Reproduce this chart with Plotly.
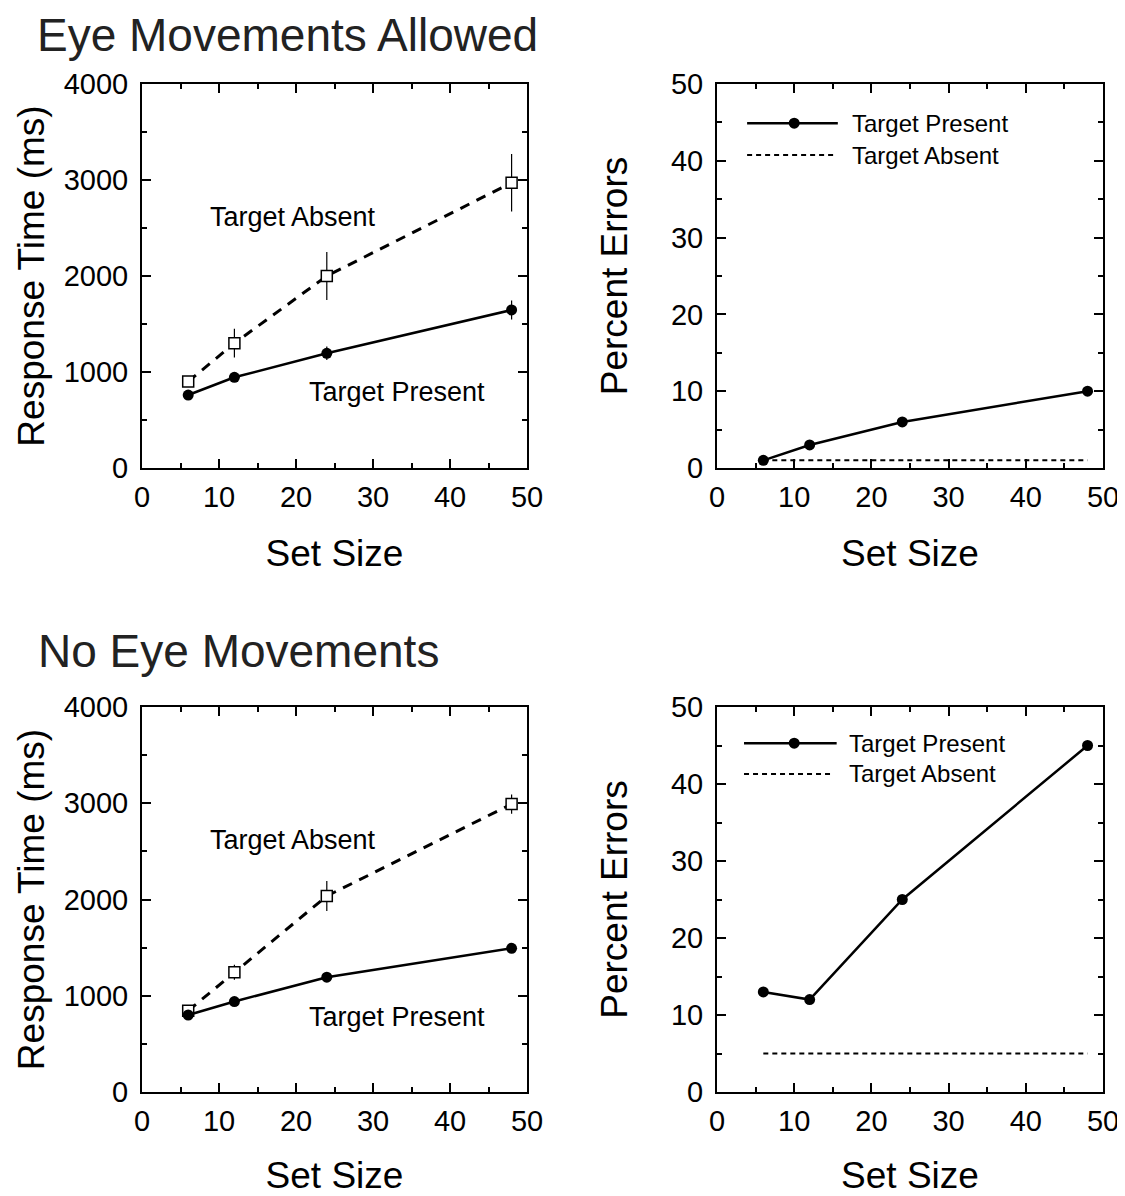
import plotly.graph_objects as go

# ---------------- data ----------------
set_size = [6, 12, 24, 48]

# Eye movements allowed
rt_present_eye = [760, 945, 1195, 1646]
rt_present_eye_err = [30, 40, 70, 100]
rt_absent_eye = [900, 1300, 2000, 2972]
rt_absent_eye_err = [30, 150, 250, 300]
err_present_eye = [1, 3, 6, 10]
err_absent_eye = [1, 1, 1, 1]

# No eye movements
rt_present_noeye = [800, 940, 1193, 1493]
rt_present_noeye_err = [20, 25, 30, 35]
rt_absent_noeye = [845, 1245, 2036, 2992]
rt_absent_noeye_err = [40, 78, 155, 100]
err_present_noeye = [13, 12, 25, 45]
err_absent_noeye = [5, 5, 5, 5]

x_ticks = [0, 10, 20, 30, 40, 50]
rt_ticks = [0, 1000, 2000, 3000, 4000]
pe_ticks = [0, 10, 20, 30, 40, 50]

FONT = "Liberation Sans, Arial, Helvetica, sans-serif"
PAGE_W, PAGE_H = 1125, 1196
OFF = 8  # default page body margin
W, H = PAGE_W - OFF, PAGE_H - OFF

def xdom(l, r):
    return [(l - OFF) / W, (r - OFF) / W]

def ydom(t, b):
    return [1 - (b - OFF) / H, 1 - (t - OFF) / H]

fig = go.Figure()

def add_rt(xa, ya, present, perr, absent, aerr):
    fig.add_trace(go.Scatter(
        x=set_size, y=absent, xaxis=xa, yaxis=ya, mode="lines+markers",
        line=dict(color="black", width=3, dash="10px,8px"),
        marker=dict(symbol="square", size=11, color="white",
                    line=dict(color="black", width=1.5)),
        error_y=dict(type="data", array=aerr, visible=True, color="black",
                     thickness=1.2, width=0),
        showlegend=False, cliponaxis=False))
    fig.add_trace(go.Scatter(
        x=set_size, y=present, xaxis=xa, yaxis=ya, mode="lines+markers",
        line=dict(color="black", width=2.5),
        marker=dict(symbol="circle", size=11, color="black"),
        error_y=dict(type="data", array=perr, visible=True, color="black",
                     thickness=1.2, width=0),
        showlegend=False, cliponaxis=False))

def add_pe(xa, ya, present, absent):
    fig.add_trace(go.Scatter(
        x=set_size, y=absent, xaxis=xa, yaxis=ya, mode="lines",
        line=dict(color="black", width=2, dash="5px,4px"),
        showlegend=False, cliponaxis=False))
    fig.add_trace(go.Scatter(
        x=set_size, y=present, xaxis=xa, yaxis=ya, mode="lines+markers",
        line=dict(color="black", width=2.5),
        marker=dict(symbol="circle", size=11, color="black"),
        showlegend=False, cliponaxis=False))

add_rt("x", "y", rt_present_eye, rt_present_eye_err, rt_absent_eye, rt_absent_eye_err)
add_pe("x2", "y2", err_present_eye, err_absent_eye)
add_rt("x3", "y3", rt_present_noeye, rt_present_noeye_err, rt_absent_noeye, rt_absent_noeye_err)
add_pe("x4", "y4", err_present_noeye, err_absent_noeye)

tickfont = dict(family=FONT, size=29, color="black")
titlefont = dict(family=FONT, size=37, color="black")

def axis_common():
    return dict(showline=True, linecolor="black", linewidth=2, mirror="ticks",
                ticks="inside", ticklen=9, tickwidth=2, tickcolor="black",
                showgrid=False, zeroline=False, tickfont=tickfont,
                fixedrange=True, automargin=False)

def xaxis(dom, anchor):
    d = axis_common()
    d.update(domain=dom, anchor=anchor, range=[0, 50], tickmode="array",
             tickvals=x_ticks, ticktext=[str(v) for v in x_ticks],
             minor=dict(ticks="inside", ticklen=5, tickwidth=2, tickcolor="black",
                        dtick=5, showgrid=False),
             title=dict(text="Set Size", font=titlefont, standoff=28),
             ticklabelstandoff=2)
    return d

def yaxis(dom, anchor, rng, vals, minor_dt, title, standoff):
    d = axis_common()
    d.update(domain=dom, anchor=anchor, range=rng, tickmode="array",
             tickvals=vals, ticktext=[str(v) for v in vals],
             minor=dict(ticks="inside", ticklen=5, tickwidth=2, tickcolor="black",
                        dtick=minor_dt, showgrid=False),
             title=dict(text=title, font=titlefont, standoff=standoff),
             ticklabelstandoff=6)
    return d

left_x = xdom(142, 527)
right_x = xdom(717, 1103)
top_y = ydom(84, 468)
bot_y = ydom(707, 1092)

fig.update_layout(
    width=W, height=H,
    margin=dict(l=0, r=0, t=0, b=0),
    paper_bgcolor="white", plot_bgcolor="white",
    font=dict(family=FONT, color="black"),
    xaxis=xaxis(left_x, "y"),
    yaxis=yaxis(top_y, "x", [0, 4000], rt_ticks, 500, "Response Time (ms)", 8),
    xaxis2=xaxis(right_x, "y2"),
    yaxis2=yaxis(top_y, "x2", [0, 50], pe_ticks, 5, "Percent Errors", 32),
    xaxis3=xaxis(left_x, "y3"),
    yaxis3=yaxis(bot_y, "x3", [0, 4000], rt_ticks, 500, "Response Time (ms)", 8),
    xaxis4=xaxis(right_x, "y4"),
    yaxis4=yaxis(bot_y, "x4", [0, 50], pe_ticks, 5, "Percent Errors", 32),
)

annots = []
annots.append(dict(text="Eye Movements Allowed", xref="paper", yref="paper",
                   x=(36 - OFF) / W, y=1.0, xanchor="left", yanchor="top",
                   borderpad=0, showarrow=False,
                   font=dict(family=FONT, size=46, color="#222")))
annots.append(dict(text="No Eye Movements", xref="paper", yref="paper",
                   x=(36 - OFF) / W, y=1 - (651 - OFF) / H, xanchor="left", yanchor="middle",
                   showarrow=False, font=dict(family=FONT, size=46, color="#222")))

labfont = dict(family=FONT, size=27, color="black")
for xa, ya, ya_abs, ya_pres in [("x", "y", 2615, 790), ("x3", "y3", 2618, 779)]:
    annots.append(dict(text="Target Absent", xref=xa, yref=ya, x=19.6, y=ya_abs,
                       showarrow=False, font=labfont, xanchor="center", yanchor="middle"))
    annots.append(dict(text="Target Present", xref=xa, yref=ya, x=33.1, y=ya_pres,
                       showarrow=False, font=labfont, xanchor="center", yanchor="middle"))

shapes = []
legfont = dict(family=FONT, size=24, color="black")
for xa, ya, yp, yab, x0, x1, xm, xt in [
        ("x2", "y2", 0.898, 0.815, 0.078, 0.313, 0.2, 0.345),
        ("x4", "y4", 0.906, 0.826, 0.070, 0.310, 0.2, 0.337)]:
    xr = xa + " domain"
    yr = ya + " domain"
    shapes.append(dict(type="line", xref=xr, yref=yr, x0=x0, x1=x1, y0=yp, y1=yp,
                       line=dict(color="black", width=2.5)))
    shapes.append(dict(type="circle", xref=xr, yref=yr, xsizemode="pixel",
                       ysizemode="pixel", xanchor=xm, yanchor=yp,
                       x0=-5.5, x1=5.5, y0=-5.5, y1=5.5,
                       fillcolor="black", line=dict(color="black", width=0)))
    shapes.append(dict(type="line", xref=xr, yref=yr, x0=x0, x1=x1 - 0.01, y0=yab, y1=yab,
                       line=dict(color="black", width=2, dash="5px,4px")))
    annots.append(dict(text="Target Present", xref=xr, yref=yr, x=xt, y=yp,
                       xanchor="left", yanchor="middle", showarrow=False, font=legfont))
    annots.append(dict(text="Target Absent", xref=xr, yref=yr, x=xt, y=yab,
                       xanchor="left", yanchor="middle", showarrow=False, font=legfont))

fig.update_layout(annotations=annots, shapes=shapes)

fig.write_html("out.html")
